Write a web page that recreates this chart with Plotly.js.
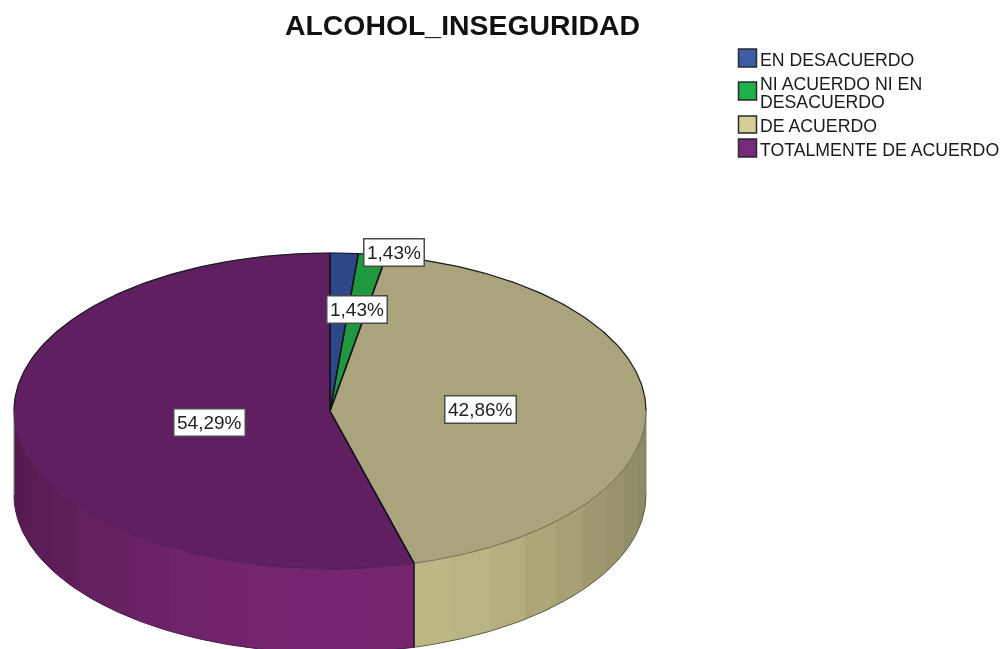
<!DOCTYPE html>
<html><head><meta charset="utf-8">
<script src="https://cdn.plot.ly/plotly-3.0.1.min.js"></script>
<style>html,body{margin:0;padding:0;background:#fff}#chart{width:1007px;height:649px;filter:blur(0.45px)}</style>
</head><body><div id="chart"></div>
<script>
// ---- data ----
const categories = ['EN DESACUERDO', 'NI ACUERDO NI EN DESACUERDO', 'DE ACUERDO', 'TOTALMENTE DE ACUERDO'];
const values = [1.43, 1.43, 42.86, 54.29];
const valueLabels = ['1,43%', '1,43%', '42,86%', '54,29%'];
const chartTitle = 'ALCOHOL_INSEGURIDAD';
const legendLines = [['EN DESACUERDO'], ['NI ACUERDO NI EN', 'DESACUERDO'], ['DE ACUERDO'], ['TOTALMENTE DE ACUERDO']];
// ---- style ----
const legendColors = ['#3d5ca8', '#20b04c', '#d4cf98', '#762a7e'];
const topColors = ['#2f4787', '#1f983f', '#a9a47c', '#5f1f60'];
const wallColors = ['#2f4787', '#1f983f', '#c3bd8a', '#75256f'];
const rimColors = ['#1a1a22', '#1a1a22', '#5f5c44', '#4a1a50'];
const facetStep = 7.6;
const facetShade = [1, .99, .97, .95, .92, .88, .85, .81, .78, .75, .73, .71];
const W = 1007, H = 649, cx = 330, cy = 411, rx = 316, ry = 158, depthPx = 84;
const depth = depthPx / ry;
const labelPx = [[394, 252], [357, 309], [480, 409], [209, 422]];
const legendY = [[49, 67, [60.5]], [82, 100, [83.5, 102.5]], [116, 133, [125.5]], [139, 157, [149.5]]];

const rad = d => d * Math.PI / 180;
const ptx = d => Math.sin(rad(d));
const pty = d => Math.cos(rad(d));
const total = values.reduce((a, b) => a + b, 0);
let acc = 0;
const slices = values.map(v => { const s = acc / total * 360; acc += v; return [s, acc / total * 360]; });

function shade(hex, k) {
  const n = parseInt(hex.slice(1), 16);
  const c = [n >> 16, (n >> 8) & 255, n & 255].map(v => Math.round(v * k));
  return `rgb(${c[0]},${c[1]},${c[2]})`;
}
function arc(a, b) {
  const n = Math.max(2, Math.ceil(Math.abs(b - a)));
  const out = [];
  for (let i = 0; i <= n; i++) out.push(a + (b - a) * i / n);
  return out;
}
const base = { type: 'scatter', mode: 'lines', fill: 'toself', hoverinfo: 'skip', showlegend: false };
const traces = [];

// side wall, visible between 90 and 270 degrees, in shaded facets from the front
slices.forEach(([s, e], i) => {
  const a0 = Math.max(s, 90), a1 = Math.min(e, 270);
  if (a1 <= a0) return;
  const stops = new Set([a0, a1]);
  for (let k = 0; k * facetStep < 90; k++) {
    [180 + k * facetStep, 180 - k * facetStep].forEach(d => { if (d > a0 && d < a1) stops.add(d); });
  }
  const sorted = [...stops].sort((p, q) => p - q);
  for (let j = 0; j < sorted.length - 1; j++) {
    const a = sorted[j], b = sorted[j + 1];
    const idx = Math.min(facetShade.length - 1, Math.floor(Math.abs((a + b) / 2 - 180) / facetStep));
    const col = shade(wallColors[i], facetShade[idx]);
    // each facet runs slightly under the next one so no seam shows between them
    const A = arc(a, Math.min(b + 0.4, a1));
    traces.push(Object.assign({}, base, {
      x: A.map(ptx).concat(A.slice().reverse().map(ptx)),
      y: A.map(pty).concat(A.slice().reverse().map(d => pty(d) - depth)),
      fillcolor: col, line: { width: 0 }
    }));
  }
  const A = arc(a0, a1);
  traces.push(Object.assign({}, base, {
    fill: 'none', x: A.map(ptx), y: A.map(d => pty(d) - depth),
    line: { color: rimColors[i], width: 1 }
  }));
});
// vertical edges of the wall
[slices[2][1]].forEach(d => traces.push(Object.assign({}, base, {
  fill: 'none', x: [ptx(d), ptx(d)], y: [pty(d), pty(d) - depth], line: { color: '#1c1420', width: 1.5 }
})));
[90, 270].forEach(d => traces.push(Object.assign({}, base, {
  fill: 'none', x: [ptx(d), ptx(d)], y: [pty(d), pty(d) - depth], line: { color: '#8a867c', width: 1 }
})));
// top face: fill, then a soft rim along the front and a dark outline elsewhere
slices.forEach(([s, e], i) => {
  const A = arc(s, e);
  traces.push(Object.assign({}, base, {
    name: categories[i],
    x: [0].concat(A.map(ptx), [0]), y: [0].concat(A.map(pty), [0]),
    fillcolor: topColors[i], line: { color: topColors[i], width: 0.5 }
  }));
});
slices.forEach(([s, e], i) => {
  const f0 = Math.max(s, 90), f1 = Math.min(e, 270);
  if (f1 > f0) {
    const A = arc(f0, f1);
    traces.push(Object.assign({}, base, { fill: 'none', x: A.map(ptx), y: A.map(pty), line: { color: rimColors[i], width: 0.8 } }));
  }
  const backArcs = [[s, Math.min(e, 90)], [Math.max(s, 270), e]];
  backArcs.forEach(([a, b]) => {
    if (b > a) {
      const A = arc(a, b);
      traces.push(Object.assign({}, base, { fill: 'none', x: A.map(ptx), y: A.map(pty), line: { color: '#1a1a22', width: 1.2 } }));
    }
  });
  [s, e].forEach(d => traces.push(Object.assign({}, base, {
    fill: 'none', x: [0, ptx(d)], y: [0, pty(d)], line: { color: '#14141c', width: 1.4 }
  })));
});

const annotations = [];
const shapes = [];
annotations.push({ xref: 'paper', yref: 'paper', x: 462.5 / W, y: 1 - 25 / H, text: '<b>' + chartTitle + '</b>',
  showarrow: false, xanchor: 'center', yanchor: 'middle', font: { family: 'Liberation Sans', size: 28.4, color: '#111' } });
legendLines.forEach((lines, i) => {
  const [y0, y1, ys] = legendY[i];
  shapes.push({ type: 'rect', xref: 'paper', yref: 'paper', x0: 738.5 / W, x1: 756.5 / W, y0: 1 - y0 / H, y1: 1 - y1 / H,
    fillcolor: legendColors[i], line: { color: '#2a2a2a', width: 1.5 } });
  lines.forEach((t, j) => annotations.push({ xref: 'paper', yref: 'paper', x: 758 / W, y: 1 - ys[j] / H, text: t,
    showarrow: false, xanchor: 'left', yanchor: 'middle', font: { family: 'Liberation Sans', size: 17.7, color: '#1a1a1a' } }));
});
valueLabels.forEach((t, i) => annotations.push({
  xref: 'x', yref: 'y', x: (labelPx[i][0] - cx) / rx, y: (cy - labelPx[i][1]) / ry, text: t, showarrow: false,
  bgcolor: '#fff', bordercolor: '#4a4a4a', borderwidth: 1.5, borderpad: 2.5,
  xanchor: 'center', yanchor: 'middle', font: { family: 'Liberation Sans', size: 19, color: '#222' }
}));

Plotly.newPlot('chart', traces, {
  width: W, height: H, margin: { l: 0, r: 0, t: 0, b: 0 }, paper_bgcolor: '#fff', plot_bgcolor: '#fff', showlegend: false,
  xaxis: { visible: false, range: [-cx / rx, (W - cx) / rx], fixedrange: true },
  yaxis: { visible: false, range: [(cy - H) / ry, cy / ry], fixedrange: true },
  annotations, shapes
}, { displayModeBar: false, staticPlot: true });
</script></body></html>
